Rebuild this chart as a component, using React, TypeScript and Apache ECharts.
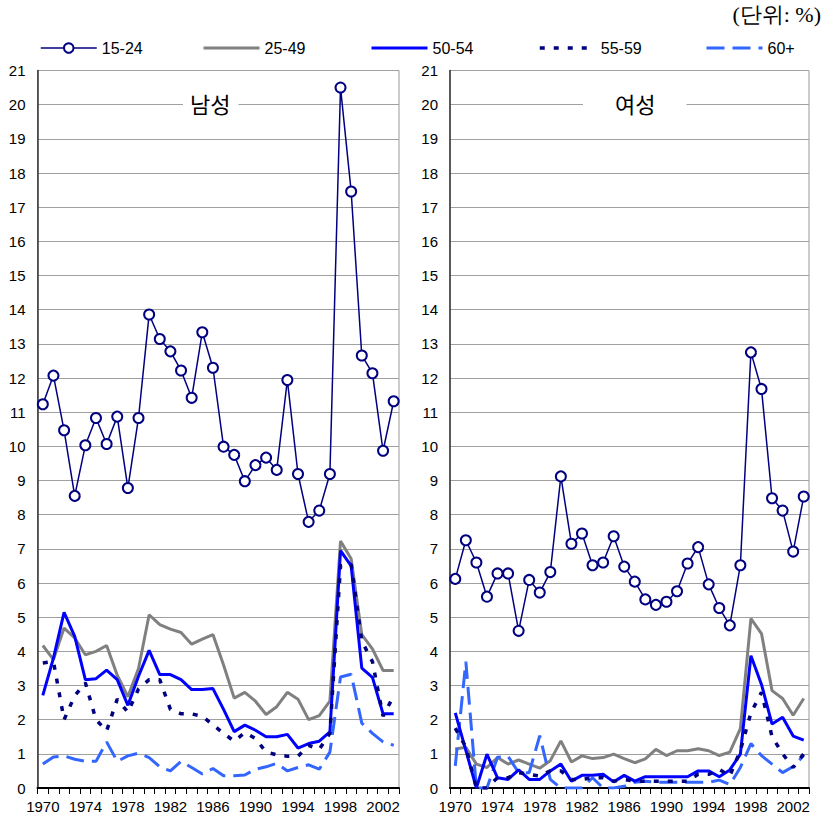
import React, { useEffect, useRef } from 'react';
import * as echarts from 'echarts';

const years = ['1970','1971','1972','1973','1974','1975','1976','1977','1978','1979',
  '1980','1981','1982','1983','1984','1985','1986','1987','1988','1989',
  '1990','1991','1992','1993','1994','1995','1996','1997','1998','1999',
  '2000','2001','2002','2003'];

const seriesNames = ['15-24', '25-49', '50-54', '55-59', '60+'];

const male15 = [11.23,12.07,10.47,8.55,10.03,10.83,10.07,10.87,8.78,10.83,
  13.86,13.14,12.78,12.22,11.42,13.34,12.30,9.99,9.75,8.98,
  9.45,9.67,9.31,11.94,9.19,7.79,8.12,9.19,20.5,17.46,
  12.66,12.14,9.87,11.32];
const male25 = [4.17,3.76,4.68,4.39,3.9,4.0,4.17,3.3,2.67,3.5,
  5.07,4.78,4.65,4.55,4.21,4.36,4.49,3.6,2.63,2.8,
  2.54,2.15,2.38,2.8,2.6,2.0,2.12,2.54,7.23,6.71,
  4.49,4.07,3.44,3.44];
const male50 = [2.71,3.8,5.14,4.44,3.17,3.2,3.45,3.17,2.42,3.27,
  4.03,3.32,3.32,3.17,2.88,2.88,2.91,2.3,1.65,1.84,
  1.69,1.5,1.5,1.57,1.17,1.3,1.37,1.64,6.95,6.5,
  3.51,3.24,2.17,2.17];
const male55 = [3.66,3.7,2.0,2.7,3.08,2.0,1.67,2.6,2.22,2.9,
  3.17,3.17,2.3,2.17,2.17,2.1,1.85,1.6,1.37,1.62,
  1.45,1.05,0.97,0.93,0.93,1.25,1.13,1.6,6.5,6.55,
  4.3,3.7,2.1,2.7];
const male60 = [0.70,0.91,0.94,0.84,0.78,0.78,1.35,0.78,0.94,1.02,
  0.89,0.62,0.5,0.78,0.6,0.41,0.57,0.36,0.36,0.38,
  0.55,0.62,0.72,0.5,0.6,0.68,0.55,1.05,3.25,3.33,
  1.9,1.6,1.35,1.25];

const female15 = [6.12,7.25,6.6,5.6,6.28,6.28,4.6,6.09,5.72,6.32,
  9.12,7.15,7.45,6.52,6.6,7.37,6.48,6.04,5.52,5.36,
  5.45,5.76,6.57,7.05,5.96,5.27,4.76,6.52,12.75,11.68,
  8.48,8.12,6.92,8.53];
const female25 = [1.14,1.19,0.7,0.6,0.89,0.7,0.82,0.7,0.58,0.8,
  1.38,0.76,0.94,0.86,0.89,0.99,0.86,0.74,0.85,1.13,
  0.95,1.09,1.09,1.15,1.09,0.95,1.05,1.74,4.96,4.52,
  2.85,2.62,2.13,2.62];
const female50 = [2.2,1.1,0,0.99,0.3,0.25,0.53,0.25,0.25,0.5,
  0.7,0.2,0.37,0.37,0.4,0.18,0.37,0.2,0.33,0.33,
  0.33,0.33,0.33,0.5,0.5,0.33,0.53,0.99,3.87,3.03,
  1.87,2.07,1.52,1.4];
const female55 = [1.75,1.2,0,0,0.3,0.3,0.45,0.4,0.35,0.5,
  0.5,0.25,0.25,0.3,0.3,0.2,0.25,0.2,0.2,0.2,
  0.2,0.2,0.2,0.4,0.4,0.55,0.35,1.1,2.2,2.8,
  1.5,1.0,0.6,1.0];
const female60 = [0.65,3.7,0,0,0.9,0.93,0.45,0.45,1.53,0.25,
  0,0,0,0.3,0,0,0.05,0.17,0.2,0.17,
  0.17,0.17,0.17,0.17,0.17,0.23,0.1,0.6,1.3,0.95,
  0.7,0.45,0.63,0.95];

const yTicks = { min: 0, max: 21, interval: 1 };
const panelTitles = ['남성', '여성'];
const unitLabel = '(단위: %)';

const lineStyles: Record<string, any> = {
  '15-24': { color: '#000080', width: 1.5, type: 'solid' },
  '25-49': { color: '#808080', width: 3, type: 'solid' },
  '50-54': { color: '#0000ff', width: 3, type: 'solid' },
  '55-59': { color: '#000080', width: 3.5, type: [5, 9] },
  '60+': { color: '#3366ff', width: 3, type: [18, 8] },
};

function mkSeries(name: string, data: number[], idx: number) {
  const ls = lineStyles[name];
  const isMarker = name === '15-24';
  return {
    name,
    type: 'line',
    xAxisIndex: idx,
    yAxisIndex: idx,
    data,
    showSymbol: isMarker,
    showAllSymbol: true,
    symbol: isMarker ? 'emptyCircle' : 'none',
    symbolSize: 10,
    itemStyle: { color: ls.color, borderColor: ls.color, borderWidth: 1.5 },
    lineStyle: { color: ls.color, width: ls.width, type: ls.type, cap: 'butt' },
    z: isMarker ? 5 : 2,
  };
}

export default function App() {
  const ref = useRef<HTMLDivElement>(null);
  useEffect(() => {
    const chart = echarts.init(ref.current!, null, { renderer: 'svg' });
    const grids = [
      { left: 37.5, top: 70.5, width: 361.5, height: 717.5 },
      { left: 450, top: 70.5, width: 359, height: 717.5 },
    ];
    const fontFamily = 'Liberation Sans, Arial, sans-serif';
    const xAxes = grids.map((_, i) => ({
      type: 'category',
      gridIndex: i,
      data: years,
      boundaryGap: true,
      axisLine: { show: true, lineStyle: { color: '#000', width: 2 } },
      axisTick: { show: true, interval: 0, length: 6, lineStyle: { color: '#000', width: 1 } },
      axisLabel: { interval: 3, fontSize: 15, color: '#000', margin: 11, fontFamily },
      splitLine: { show: false },
    }));
    const yAxes = grids.map((_, i) => ({
      type: 'value',
      gridIndex: i,
      min: yTicks.min,
      max: yTicks.max,
      interval: yTicks.interval,
      axisLine: { show: true, lineStyle: { color: '#333', width: 1.5 } },
      axisTick: { show: false },
      axisLabel: { fontSize: 15, color: '#000', margin: 12, fontFamily },
      splitLine: { show: true, lineStyle: { color: '#a0a0a0', width: 1 } },
    }));
    const maleData: Record<string, number[]> = { '15-24': male15, '25-49': male25, '50-54': male50, '55-59': male55, '60+': male60 };
    const femaleData: Record<string, number[]> = { '15-24': female15, '25-49': female25, '50-54': female50, '55-59': female55, '60+': female60 };
    const drawOrder = ['25-49', '60+', '50-54', '55-59', '15-24'];
    const series: any[] = [];
    [maleData, femaleData].forEach((d, i) => {
      drawOrder.forEach((n) => series.push(mkSeries(n, d[n], i)));
    });
    const legendLefts = [35, 197, 365, 533, 700];
    const legends = seriesNames.map((n, i) => {
      const isMarker = n === '15-24';
      const ls = lineStyles[n];
      const lg: any = {
        data: [n],
        left: legendLefts[i],
        top: 35,
        itemWidth: 56,
        itemHeight: 12,
        itemGap: 5,
        selectedMode: false,
        lineStyle: { color: ls.color, width: ls.width, type: ls.type, cap: 'butt' },
        textStyle: { fontSize: 16, color: '#000', fontFamily },
      };
      if (!isMarker) {
        lg.itemStyle = { color: 'transparent', borderColor: 'transparent', borderWidth: 0, opacity: 0 };
      }
      return lg;
    });
    const option: any = {
      animation: false,
      backgroundColor: '#fff',
      grid: grids.map((g) => ({ ...g, show: true, borderColor: '#999', borderWidth: 1, backgroundColor: 'transparent' })),
      xAxis: xAxes,
      yAxis: yAxes,
      legend: legends,
      title: [
        {
          text: panelTitles[0], left: 183, top: 89, backgroundColor: '#fff', padding: [3, 8, 3, 7],
          textStyle: { fontSize: 22, fontWeight: 'normal', color: '#000', fontFamily: 'Noto Sans CJK KR' },
        },
        {
          text: panelTitles[1], left: 583, top: 89, backgroundColor: '#fff', padding: [3, 31, 3, 32],
          textStyle: { fontSize: 22, fontWeight: 'normal', color: '#000', fontFamily: 'Noto Sans CJK KR' },
        },
      ],
      graphic: [
        {
          type: 'text', right: 6, top: 3,
          style: { text: unitLabel, fontSize: 22, fill: '#000', fontFamily: 'serif' },
        },
      ],
      series,
    };
    chart.setOption(option);
    return () => chart.dispose();
  }, []);
  return <div ref={ref} style={{ position: 'absolute', left: 0, top: 0, width: 827, height: 821 }} />;
}
